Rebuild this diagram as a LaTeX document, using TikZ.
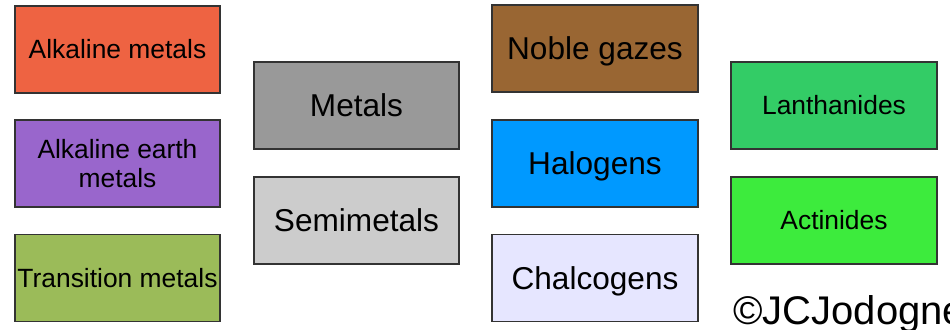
\documentclass[tikz,border=0pt]{standalone}
\usepackage{fontspec}
\setmainfont{Liberation Sans}
\definecolor{calk}{HTML}{EE6342}
\definecolor{cae}{HTML}{9966CC}
\definecolor{ctr}{HTML}{9BBB59}
\definecolor{cmet}{HTML}{999999}
\definecolor{csemi}{HTML}{CCCCCC}
\definecolor{cnob}{HTML}{996633}
\definecolor{chal}{HTML}{0099FF}
\definecolor{cchal}{HTML}{E6E6FF}
\definecolor{clan}{HTML}{33CC66}
\definecolor{cact}{HTML}{3DEB3D}
\definecolor{cborder}{HTML}{333333}
\tikzset{
  catbox/.style={draw=cborder, line width=0.9pt, inner sep=0pt, align=center,
    minimum height=87*0.75pt, text=black},
  narrow/.style={catbox, minimum width=205*0.75pt},
  wide/.style={catbox, minimum width=206*0.75pt},
  smallfont/.style={font=\fontsize{19.8pt}{21.8pt}\selectfont},
  smalltxt/.style={smallfont, text height=14.2pt, text depth=0pt},
  bigtxt/.style={font=\fontsize{23.7pt}{26pt}\selectfont, text height=17pt, text depth=0pt},
}
\begin{document}
\begin{tikzpicture}[x=0.75pt,y=-0.75pt]
\useasboundingbox (0,0) rectangle (950,329);
\node[narrow, smalltxt, fill=calk] (alk) at (117.5,49.5) {Alkaline metals};
\node[narrow, smallfont, fill=cae] (ae) at (117.5,163.5) {Alkaline earth\\metals};
\node[narrow, smalltxt, fill=ctr] (tr) at (117.5,278) {Transition metals};
\node[narrow, bigtxt, fill=cmet] (met) at (356.5,105.5) {Metals};
\node[narrow, bigtxt, fill=csemi] (semi) at (356.5,220.5) {Semimetals};
\node[wide, bigtxt, fill=cnob] (nob) at (595,48.5) {Noble gazes};
\node[wide, bigtxt, fill=chal] (hal) at (595,163.5) {Halogens};
\node[wide, bigtxt, fill=cchal] (chal) at (595,278) {Chalcogens};
\node[wide, smalltxt, fill=clan] (lan) at (834,105.5) {Lanthanides};
\node[wide, smalltxt, fill=cact] (act) at (834,220.5) {Actinides};
\node[anchor=base west, inner sep=0pt, font=\fontsize{30pt}{32pt}\selectfont] (copy) at (733,324) {©JCJodogne};
\end{tikzpicture}
\end{document}
